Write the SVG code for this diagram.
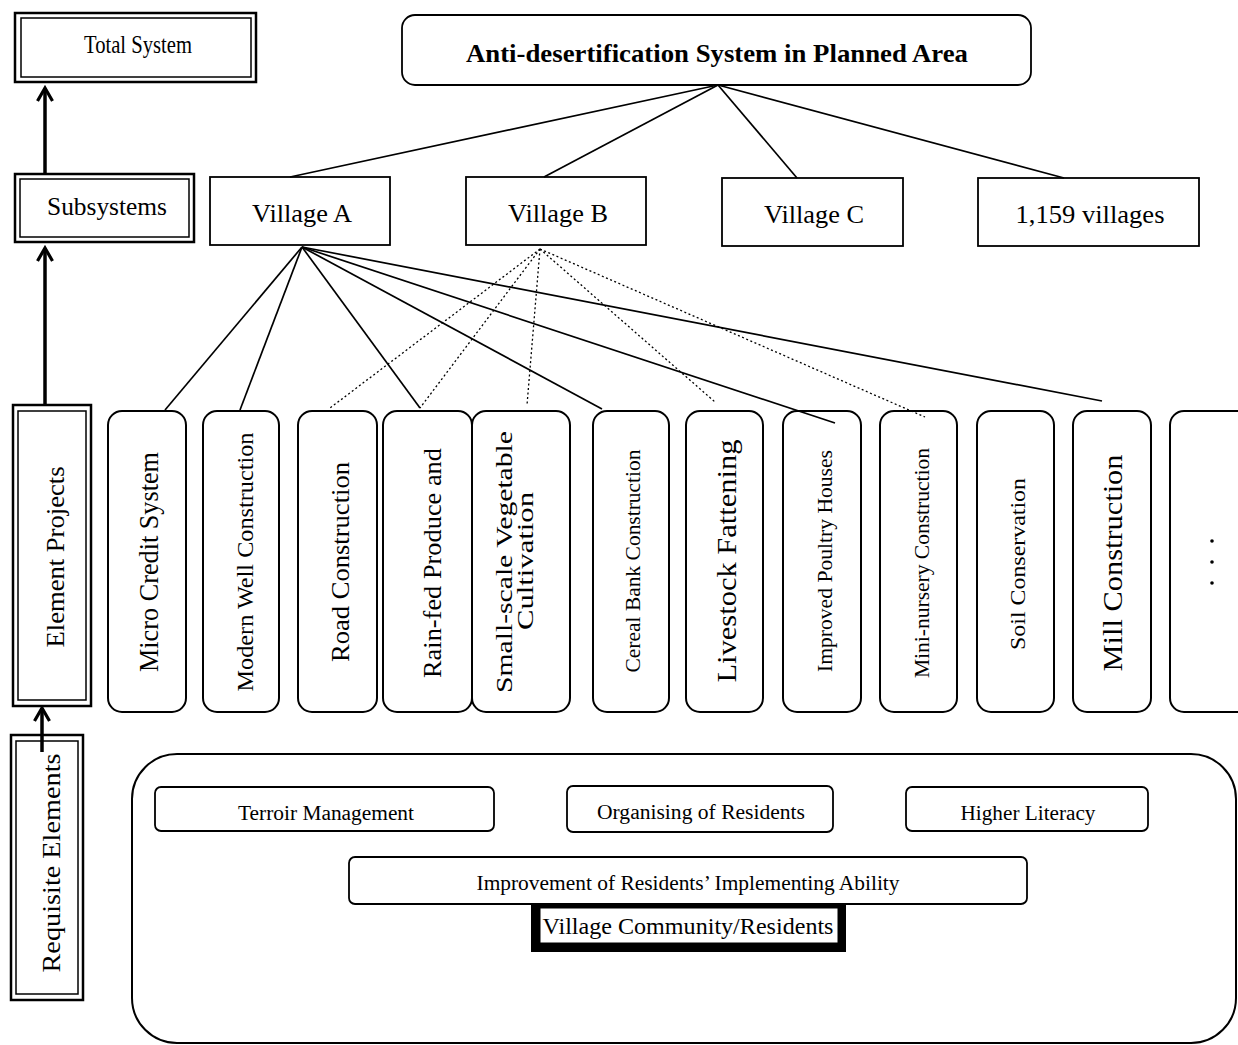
<svg xmlns="http://www.w3.org/2000/svg" width="1238" height="1045" viewBox="0 0 1238 1045">
  <style>
    text { font-family: "Liberation Serif", "Times New Roman", serif; fill: #000; }
    .outer { fill: #fff; stroke: #000; stroke-width: 2.5; }
    .inner { fill: none; stroke: #000; stroke-width: 1.5; }
    .box { fill: #fff; stroke: #000; stroke-width: 1.8; }
    .proj { fill: #fff; stroke: #000; stroke-width: 2; }
    .link { fill: none; stroke: #000; stroke-width: 1.7; }
    .dot { fill: none; stroke: #000; stroke-width: 1.3; stroke-dasharray: 2 2.5; }
    .up { fill: none; stroke: #000; stroke-width: 3.5; marker-end: url(#chev); }
    .vt { text-anchor: middle; }
  </style>
  <defs>
    <marker id="chev" markerUnits="userSpaceOnUse" viewBox="0 0 18 18" markerWidth="18" markerHeight="18" refX="15" refY="9" orient="auto">
      <path d="M2,1.5 L15,9 L2,16.5" fill="none" stroke="#000" stroke-width="3.2"/>
    </marker>
  </defs>

  <!-- level labels -->
  <g id="total-system">
    <rect class="outer" x="15" y="13" width="241" height="69"/>
    <rect class="inner" x="21" y="18" width="230" height="59"/>
    <text x="138" y="53" font-size="25" text-anchor="middle" textLength="108" lengthAdjust="spacingAndGlyphs">Total System</text>
  </g>
  <g id="subsystems">
    <rect class="outer" x="15" y="174" width="179" height="68"/>
    <rect class="inner" x="20" y="179" width="169" height="58"/>
    <text x="107" y="215" font-size="26" text-anchor="middle" textLength="120" lengthAdjust="spacingAndGlyphs">Subsystems</text>
  </g>
  <g id="element-projects">
    <rect class="outer" x="13" y="405" width="78" height="301"/>
    <rect class="inner" x="18" y="411" width="68" height="289"/>
    <text class="vt" transform="translate(55,557) rotate(-90)" dy="0.33em" font-size="26" textLength="181" lengthAdjust="spacingAndGlyphs">Element Projects</text>
  </g>
  <g id="requisite-elements">
    <rect class="outer" x="11" y="735" width="72" height="265"/>
    <rect class="inner" x="16" y="741" width="62" height="253"/>
    <text class="vt" transform="translate(51,863) rotate(-90)" dy="0.33em" font-size="26" textLength="219" lengthAdjust="spacingAndGlyphs">Requisite Elements</text>
  </g>

  <!-- top system -->
  <g id="anti-desertification">
    <rect class="box" x="402" y="15" width="629" height="70" rx="13"/>
    <text x="717" y="62" font-size="25" font-weight="bold" text-anchor="middle" textLength="502" lengthAdjust="spacingAndGlyphs">Anti-desertification System in Planned Area</text>
  </g>

  <!-- villages -->
  <g id="village-a">
    <rect class="box" x="210" y="177" width="180" height="68"/>
    <text x="302" y="222" font-size="26" text-anchor="middle" textLength="100" lengthAdjust="spacingAndGlyphs">Village A</text>
  </g>
  <g id="village-b">
    <rect class="box" x="466" y="177" width="180" height="68"/>
    <text x="558" y="222" font-size="26" text-anchor="middle" textLength="100" lengthAdjust="spacingAndGlyphs">Village B</text>
  </g>
  <g id="village-c">
    <rect class="box" x="722" y="178" width="181" height="68"/>
    <text x="814" y="223" font-size="26" text-anchor="middle" textLength="100" lengthAdjust="spacingAndGlyphs">Village C</text>
  </g>
  <g id="villages-1159">
    <rect class="box" x="978" y="178" width="221" height="68"/>
    <text x="1090" y="223" font-size="26" text-anchor="middle" textLength="149" lengthAdjust="spacingAndGlyphs">1,159 villages</text>
  </g>

  <!-- element projects -->
  <g id="micro-credit">
    <rect class="proj" x="108" y="411" width="78" height="301" rx="14"/>
    <text class="vt" transform="translate(149,562) rotate(-90)" dy="0.33em" font-size="27" textLength="220" lengthAdjust="spacingAndGlyphs">Micro Credit System</text>
  </g>
  <g id="modern-well">
    <rect class="proj" x="203" y="411" width="76" height="301" rx="14"/>
    <text class="vt" transform="translate(245,562) rotate(-90)" dy="0.33em" font-size="23" textLength="259" lengthAdjust="spacingAndGlyphs">Modern Well Construction</text>
  </g>
  <g id="road">
    <rect class="proj" x="298" y="411" width="79" height="301" rx="14"/>
    <text class="vt" transform="translate(340,562) rotate(-90)" dy="0.33em" font-size="26" textLength="200" lengthAdjust="spacingAndGlyphs">Road Construction</text>
  </g>
  <g id="rain-fed">
    <rect class="proj" x="383" y="411" width="89" height="301" rx="14"/>
    <text class="vt" transform="translate(432,563) rotate(-90)" dy="0.33em" font-size="26" textLength="230" lengthAdjust="spacingAndGlyphs">Rain-fed Produce and</text>
  </g>
  <g id="small-scale">
    <rect class="proj" x="472" y="411" width="98" height="301" rx="14"/>
    <text class="vt" transform="translate(504,562) rotate(-90)" dy="0.33em" font-size="24" textLength="262" lengthAdjust="spacingAndGlyphs">Small-scale Vegetable</text>
    <text class="vt" transform="translate(525,561) rotate(-90)" dy="0.33em" font-size="24" textLength="138" lengthAdjust="spacingAndGlyphs">Cultivation</text>
  </g>
  <g id="cereal-bank">
    <rect class="proj" x="593" y="411" width="76" height="301" rx="14"/>
    <text class="vt" transform="translate(633,561) rotate(-90)" dy="0.33em" font-size="20" textLength="223" lengthAdjust="spacingAndGlyphs">Cereal Bank Construction</text>
  </g>
  <g id="livestock">
    <rect class="proj" x="686" y="411" width="77" height="301" rx="14"/>
    <text class="vt" transform="translate(727,561) rotate(-90)" dy="0.33em" font-size="27" textLength="243" lengthAdjust="spacingAndGlyphs">Livestock Fattening</text>
  </g>
  <g id="poultry">
    <rect class="proj" x="783" y="411" width="78" height="301" rx="14"/>
    <text class="vt" transform="translate(825,561) rotate(-90)" dy="0.33em" font-size="20" textLength="222" lengthAdjust="spacingAndGlyphs">Improved Poultry Houses</text>
  </g>
  <g id="mini-nursery">
    <rect class="proj" x="880" y="411" width="77" height="301" rx="14"/>
    <text class="vt" transform="translate(922,563) rotate(-90)" dy="0.33em" font-size="20" textLength="230" lengthAdjust="spacingAndGlyphs">Mini-nursery Construction</text>
  </g>
  <g id="soil">
    <rect class="proj" x="977" y="411" width="77" height="301" rx="14"/>
    <text class="vt" transform="translate(1018,564) rotate(-90)" dy="0.33em" font-size="22" textLength="172" lengthAdjust="spacingAndGlyphs">Soil Conservation</text>
  </g>
  <g id="mill">
    <rect class="proj" x="1073" y="411" width="78" height="301" rx="14"/>
    <text class="vt" transform="translate(1113,563) rotate(-90)" dy="0.33em" font-size="27" textLength="217" lengthAdjust="spacingAndGlyphs">Mill Construction</text>
  </g>
  <g id="more-projects">
    <rect class="proj" x="1170" y="411" width="90" height="301" rx="14"/>
    <circle cx="1212" cy="541" r="1.8"/>
    <circle cx="1212" cy="562" r="1.8"/>
    <circle cx="1212" cy="583" r="1.8"/>
  </g>

  <!-- requisite elements area -->
  <g id="requisite-area">
    <rect class="proj" x="132" y="754" width="1104" height="289" rx="45"/>
  </g>
  <g id="terroir">
    <rect class="box" x="155" y="787" width="339" height="44" rx="6"/>
    <text x="326" y="820" font-size="20" text-anchor="middle" textLength="176" lengthAdjust="spacingAndGlyphs">Terroir Management</text>
  </g>
  <g id="organising">
    <rect class="box" x="567" y="786" width="266" height="46" rx="6"/>
    <text x="701" y="819" font-size="20" text-anchor="middle" textLength="208" lengthAdjust="spacingAndGlyphs">Organising of Residents</text>
  </g>
  <g id="literacy">
    <rect class="box" x="906" y="787" width="242" height="44" rx="6"/>
    <text x="1028" y="820" font-size="20" text-anchor="middle" textLength="135" lengthAdjust="spacingAndGlyphs">Higher Literacy</text>
  </g>
  <g id="implementing-ability">
    <rect class="box" x="349" y="857" width="678" height="47" rx="6"/>
    <text x="688" y="890" font-size="20" text-anchor="middle" textLength="423" lengthAdjust="spacingAndGlyphs">Improvement of Residents’ Implementing Ability</text>
  </g>
  <g id="village-community">
    <rect x="531" y="905" width="315" height="47" fill="#000"/>
    <rect x="540" y="908" width="298" height="35" fill="#fff" stroke="#000" stroke-width="1"/>
    <text x="688" y="934" font-size="24" text-anchor="middle" textLength="291" lengthAdjust="spacingAndGlyphs">Village Community/Residents</text>
  </g>

  <!-- connectors -->
  <g id="connectors">
    <line class="up" x1="45" y1="174" x2="45" y2="88"/>
    <line class="up" x1="45" y1="405" x2="45" y2="248"/>
    <line class="up" x1="42" y1="752" x2="42" y2="708"/>

    <line class="link" x1="718" y1="85" x2="290" y2="177"/>
    <line class="link" x1="718" y1="85" x2="544" y2="177"/>
    <line class="link" x1="718" y1="85" x2="797" y2="178"/>
    <line class="link" x1="718" y1="85" x2="1064" y2="178"/>

    <line class="link" x1="302" y1="247" x2="165" y2="410"/>
    <line class="link" x1="302" y1="247" x2="240" y2="410"/>
    <line class="link" x1="302" y1="247" x2="420" y2="408"/>
    <line class="link" x1="302" y1="247" x2="602" y2="409"/>
    <line class="link" x1="302" y1="247" x2="835" y2="423"/>
    <line class="link" x1="302" y1="247" x2="1102" y2="401"/>

    <line class="dot" x1="540" y1="249" x2="330" y2="408"/>
    <line class="dot" x1="540" y1="249" x2="420" y2="408"/>
    <line class="dot" x1="540" y1="249" x2="527" y2="405"/>
    <line class="dot" x1="540" y1="249" x2="715" y2="402"/>
    <line class="dot" x1="540" y1="249" x2="925" y2="417"/>
  </g>
</svg>
